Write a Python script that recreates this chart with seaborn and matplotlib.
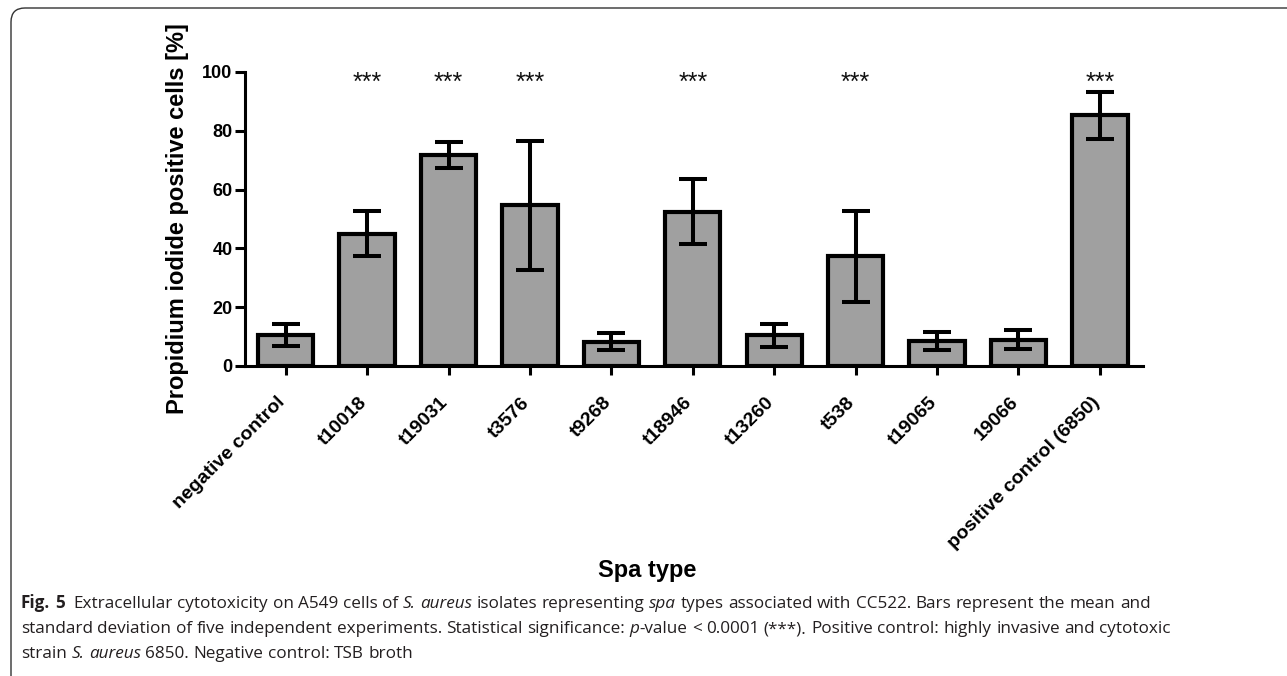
import matplotlib
matplotlib.use("Agg")
import matplotlib.pyplot as plt
import matplotlib.transforms as mtransforms
from matplotlib.patches import FancyBboxPatch
import seaborn as sns
import numpy as np

# ---------------- data ----------------
categories = ["negative control", "t10018", "t19031", "t3576", "t9268", "t18946",
              "t13260", "t538", "t19065", "19066", "positive control (6850)"]
means = [10.6, 45.0, 71.8, 54.6, 8.2, 52.5, 10.4, 37.3, 8.5, 9.0, 85.3]
sds = [3.7, 7.7, 4.3, 22.0, 2.9, 11.0, 3.8, 15.4, 3.0, 3.3, 8.0]
significance = ["", "***", "***", "***", "", "***", "", "***", "", "", "***"]
yticks = [0, 20, 40, 60, 80, 100]
ylabel = "Propidium iodide positive cells [%]"
xlabel = "Spa type"

caption_lines = [
    [("Fig. 5", "bold"), ("  Extracellular cytotoxicity on A549 cells of ", "regular"),
     ("S. aureus", "italic"), (" isolates representing ", "regular"), ("spa", "italic"),
     (" types associated with CC522. Bars represent the mean and", "regular")],
    [("standard deviation of five independent experiments. Statistical significance: ", "regular"),
     ("p", "italic"), ("-value < 0.0001 (***). Positive control: highly invasive and cytotoxic", "regular")],
    [("strain ", "regular"), ("S. aureus", "italic"), (" 6850. Negative control: TSB broth", "regular")],
]

# ---------------- figure ----------------
sns.set_theme(style="ticks")
plt.rcParams['font.family'] = ['Liberation Sans', 'DejaVu Sans']

W, H = 1287, 676
fig = plt.figure(figsize=(W / 100, H / 100), dpi=100)
fig.patch.set_facecolor("white")

ax_left, ax_right, ax_top, ax_bot = 245, 1143, 72, 366
ax = fig.add_axes([ax_left / W, 1 - ax_bot / H, (ax_right - ax_left) / W, (ax_bot - ax_top) / H])
ax.set_facecolor("white")

sns.barplot(x=categories, y=means, color="#a0a0a0", saturation=1, edgecolor="black",
            linewidth=3.0, width=0.68, errorbar=None, ax=ax, zorder=2)
xpos = np.arange(len(categories))
eb = ax.errorbar(xpos, means, yerr=sds, fmt="none", ecolor="black", elinewidth=2.9,
                 capsize=10, capthick=2.9, zorder=3)
for ln in eb.lines[1]:
    ln.set_solid_capstyle("round")

for x, s in zip(xpos, significance):
    if s:
        ax.text(x, 93.8, s, ha="center", va="baseline", fontsize=18, color="#111111",
                clip_on=False, zorder=4)

ax.set_ylim(0, 100)
ax.set_xlim(-0.5, len(categories) - 0.47)
ax.set_yticks(yticks)
sns.despine(ax=ax)
for sp in ["left", "bottom"]:
    ax.spines[sp].set_linewidth(2.2)
    ax.spines[sp].set_color("black")

ax.tick_params(axis="y", length=7, width=2.2, pad=2, labelsize=13, colors="black")
ax.tick_params(axis="x", length=6.5, width=2.2, pad=18, labelsize=14, colors="black")
for lab in ax.get_yticklabels():
    lab.set_fontweight("bold")
offset = mtransforms.ScaledTranslation(-3 / 100, 0, fig.dpi_scale_trans)
for lab in ax.get_xticklabels():
    lab.set_fontweight("bold")
    lab.set_rotation(45)
    lab.set_ha("right")
    lab.set_va("center")
    lab.set_rotation_mode("anchor")
    lab.set_transform(lab.get_transform() + offset)

ax.set_ylabel(ylabel, fontsize=17, fontweight="bold", color="black")
ax.yaxis.set_label_coords(-0.0624, 0.5)
ax.set_xlabel(xlabel, fontsize=17, fontweight="bold", color="black")
ax.xaxis.set_label_coords((647 - ax_left) / (ax_right - ax_left), -(559 - ax_bot) / (ax_bot - ax_top))

# ---------------- border ----------------
border = FancyBboxPatch((11, -60), 1400, (H - 8) + 60,
                        boxstyle="round,pad=0,rounding_size=14",
                        transform=mtransforms.IdentityTransform(), fill=False,
                        edgecolor="#333333", linewidth=1.0)
fig.patches.append(border)
border.set_figure(fig)

# ---------------- caption ----------------
fig.canvas.draw()
renderer = fig.canvas.get_renderer()
cap_family = ['Open Sans', 'DejaVu Sans']
styles = {
    "regular": dict(family=cap_family, fontweight="normal", fontstyle="normal"),
    "bold": dict(family=cap_family, fontweight="bold", fontstyle="normal"),
    "italic": dict(family=cap_family, fontweight="normal", fontstyle="italic"),
}

def text_w(s, size, style):
    t = fig.text(0, 0, s, fontsize=size, **styles[style])
    w = t.get_window_extent(renderer).width
    t.remove()
    return w

def line_width(segs, size):
    total = 0.0
    for txt, st in segs:
        sp = text_w("a a", size, st) - text_w("aa", size, st)
        parts = txt.split(" ")
        for i, p in enumerate(parts):
            if i > 0:
                total += sp
            if p:
                total += text_w(p, size, st)
    return total

base = 10.0
target = 1150 - 21
cap_size = base * target / line_width(caption_lines[0], base)

def draw_line(segs, x0, ybase, size):
    x = x0
    for txt, st in segs:
        sp = text_w("a a", size, st) - text_w("aa", size, st)
        parts = txt.split(" ")
        for i, p in enumerate(parts):
            if i > 0:
                x += sp
            if p:
                t = fig.text(x / W, 1 - ybase / H, p, fontsize=size, va="baseline",
                             ha="left", color="#231f20", **styles[st])
                x += t.get_window_extent(renderer).width

for segs, yb in zip(caption_lines, [608, 633, 658]):
    draw_line(segs, 21, yb, cap_size)

fig.savefig("out.png", dpi=100, facecolor="white")
